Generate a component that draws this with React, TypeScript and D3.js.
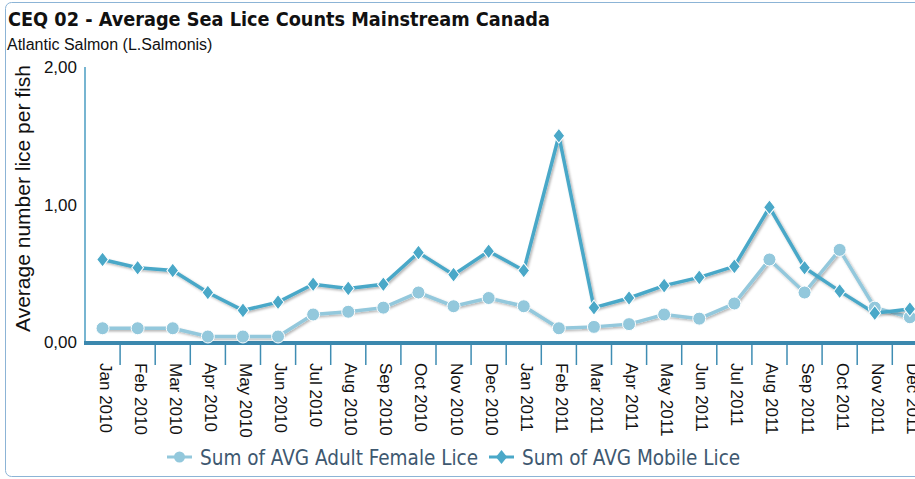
import React, { useEffect, useRef } from "react";
import * as d3 from "d3";

const months = [
  "Jan 2010", "Feb 2010", "Mar 2010", "Apr 2010", "May 2010", "Jun 2010",
  "Jul 2010", "Aug 2010", "Sep 2010", "Oct 2010", "Nov 2010", "Dec 2010",
  "Jan 2011", "Feb 2011", "Mar 2011", "Apr 2011", "May 2011", "Jun 2011",
  "Jul 2011", "Aug 2011", "Sep 2011", "Oct 2011", "Nov 2011", "Dec 2011",
];

const adultFemale = [
  0.1, 0.1, 0.1, 0.04, 0.04, 0.04, 0.2, 0.22, 0.25, 0.36, 0.26, 0.32,
  0.26, 0.1, 0.11, 0.13, 0.2, 0.17, 0.28, 0.6, 0.36, 0.67, 0.25, 0.18,
];

const mobile = [
  0.6, 0.54, 0.52, 0.36, 0.23, 0.29, 0.42, 0.39, 0.42, 0.65, 0.49, 0.66,
  0.52, 1.5, 0.25, 0.32, 0.41, 0.47, 0.55, 0.98, 0.54, 0.37, 0.21, 0.24,
];

const yTicks = [0, 1, 2];

const App = () => {
  const svgRef = useRef<SVGSVGElement>(null);

  useEffect(() => {
    const width = 915;
    const height = 479;
    const svg = d3.select(svgRef.current);
    svg.selectAll("*").remove();
    svg.attr("width", width).attr("height", height);

    const left = 85;
    const step = 35.1;
    const x = d3
      .scaleBand()
      .domain(months)
      .range([left, left + step * months.length])
      .paddingInner(0)
      .paddingOuter(0);
    const y = d3.scaleLinear().domain([0, 2]).range([342, 67]);
    const cx = (m: string) => (x(m) as number) + x.bandwidth() / 2;

    // drop shadow for the lines
    const defs = svg.append("defs");
    const f = defs
      .append("filter")
      .attr("id", "shadow")
      .attr("x", "-10%")
      .attr("y", "-10%")
      .attr("width", "130%")
      .attr("height", "130%");
    f.append("feDropShadow")
      .attr("dx", 1.5)
      .attr("dy", 1.5)
      .attr("stdDeviation", 1)
      .attr("flood-color", "#000")
      .attr("flood-opacity", 0.3);

    // frame
    svg
      .append("rect")
      .attr("x", 5.5)
      .attr("y", 2.5)
      .attr("width", 960)
      .attr("height", 474)
      .attr("rx", 6)
      .attr("fill", "none")
      .attr("stroke", "#8cb4d6")
      .attr("stroke-width", 1);

    // titles
    svg
      .append("text")
      .attr("x", 8)
      .attr("y", 26)
      .style("font-family", "'DejaVu Sans Condensed', 'DejaVu Sans', sans-serif")
      .style("font-stretch", "condensed")
      .style("font-weight", "bold")
      .style("font-size", "19.7px")
      .attr("fill", "#111")
      .text("CEQ 02 - Average Sea Lice Counts Mainstream Canada");

    svg
      .append("text")
      .attr("x", 7)
      .attr("y", 50)
      .style("font-family", "'Liberation Sans', Arial, sans-serif")
      .style("font-size", "16px")
      .attr("fill", "#111")
      .text("Atlantic Salmon (L.Salmonis)");

    // y axis
    svg
      .append("line")
      .attr("x1", left)
      .attr("x2", left)
      .attr("y1", y(2))
      .attr("y2", y(0))
      .attr("stroke", "#4a9cc2")
      .attr("stroke-width", 1.5);

    svg
      .append("g")
      .selectAll("text")
      .data(yTicks)
      .enter()
      .append("text")
      .attr("x", 77)
      .attr("y", (d) => y(d) + 6)
      .attr("text-anchor", "end")
      .style("font-family", "'Liberation Sans', Arial, sans-serif")
      .style("font-size", "17px")
      .attr("fill", "#111")
      .text((d) => d3.format(".2f")(d).replace(".", ","));

    svg
      .append("text")
      .attr("transform", `translate(30, 198.5) rotate(-90)`)
      .attr("text-anchor", "middle")
      .style("font-family", "'Liberation Sans', Arial, sans-serif")
      .style("font-size", "21px")
      .attr("fill", "#111")
      .text("Average number lice per fish");

    // x axis ticks at category boundaries
    const bounds = months.map((m) => (x(m) as number) + x.bandwidth());
    svg
      .append("g")
      .selectAll("line")
      .data(bounds)
      .enter()
      .append("line")
      .attr("x1", (d) => d)
      .attr("x2", (d) => d)
      .attr("y1", y(0))
      .attr("y2", y(0) + 23)
      .attr("stroke", "#3f8db3")
      .attr("stroke-width", 1.5);

    svg
      .append("line")
      .attr("x1", left - 1)
      .attr("x2", width)
      .attr("y1", y(0) + 1)
      .attr("y2", y(0) + 1)
      .attr("stroke", "#3b88ae")
      .attr("stroke-width", 4);

    svg
      .append("g")
      .selectAll("text")
      .data(months)
      .enter()
      .append("text")
      .attr("transform", (d) => `translate(${cx(d) - 3}, 363) rotate(90)`)
      .style("font-family", "'Liberation Sans', Arial, sans-serif")
      .style("font-size", "17px")
      .attr("fill", "#111")
      .text((d) => d);

    const line = d3
      .line<number>()
      .x((_, i) => cx(months[i]))
      .y((d) => y(d));

    const femaleColor = "#93c8dc";
    const mobileColor = "#4aa8c8";

    // female series
    svg
      .append("path")
      .attr("d", line(adultFemale))
      .attr("fill", "none")
      .attr("stroke", femaleColor)
      .attr("stroke-width", 3.5)
      .attr("filter", "url(#shadow)");

    // mobile series
    svg
      .append("path")
      .attr("d", line(mobile))
      .attr("fill", "none")
      .attr("stroke", mobileColor)
      .attr("stroke-width", 3.5)
      .attr("filter", "url(#shadow)");

    svg
      .append("g")
      .selectAll("circle")
      .data(adultFemale)
      .enter()
      .append("circle")
      .attr("cx", (_, i) => cx(months[i]))
      .attr("cy", (d) => y(d))
      .attr("r", 6.5)
      .attr("fill", femaleColor)
      .attr("stroke", "#fff")
      .attr("stroke-width", 1);

    const diamond = d3.symbol().type(d3.symbolDiamond).size(90);
    svg
      .append("g")
      .selectAll("path")
      .data(mobile)
      .enter()
      .append("path")
      .attr("d", diamond)
      .attr("transform", (d, i) => `translate(${cx(months[i])}, ${y(d)}) scale(1.15, 0.85)`)
      .attr("fill", mobileColor)
      .attr("stroke", "#fff")
      .attr("stroke-width", 1);

    // legend
    const legend = svg.append("g").attr("transform", "translate(0, 457)");
    const items = [
      { label: "Sum of AVG Adult Female Lice", color: femaleColor, shape: "circle", x: 167 },
      { label: "Sum of AVG Mobile Lice", color: mobileColor, shape: "diamond", x: 489 },
    ];
    items.forEach((it) => {
      const g = legend.append("g").attr("transform", `translate(${it.x}, 0)`);
      g.append("line")
        .attr("x1", 0)
        .attr("x2", 25)
        .attr("y1", 0)
        .attr("y2", 0)
        .attr("stroke", it.color)
        .attr("stroke-width", 3);
      if (it.shape === "circle") {
        g.append("circle").attr("cx", 12.5).attr("cy", 0).attr("r", 5.5).attr("fill", it.color);
      } else {
        g.append("path")
          .attr("d", diamond)
          .attr("transform", "translate(12.5, 0) scale(1.1, 0.8)")
          .attr("fill", it.color);
      }
      g.append("text")
        .attr("x", 33)
        .attr("y", 7.5)
        .style("font-family", "'DejaVu Sans Condensed', 'DejaVu Sans', sans-serif")
        .style("font-stretch", "condensed")
        .style("font-size", "20.5px")
        .attr("fill", "#3e5870")
        .text(it.label);
    });
  }, []);

  return (
    <div style={{ position: "absolute", left: 0, top: 0 }}>
      <svg ref={svgRef} style={{ display: "block" }} />
    </div>
  );
};

export default App;
